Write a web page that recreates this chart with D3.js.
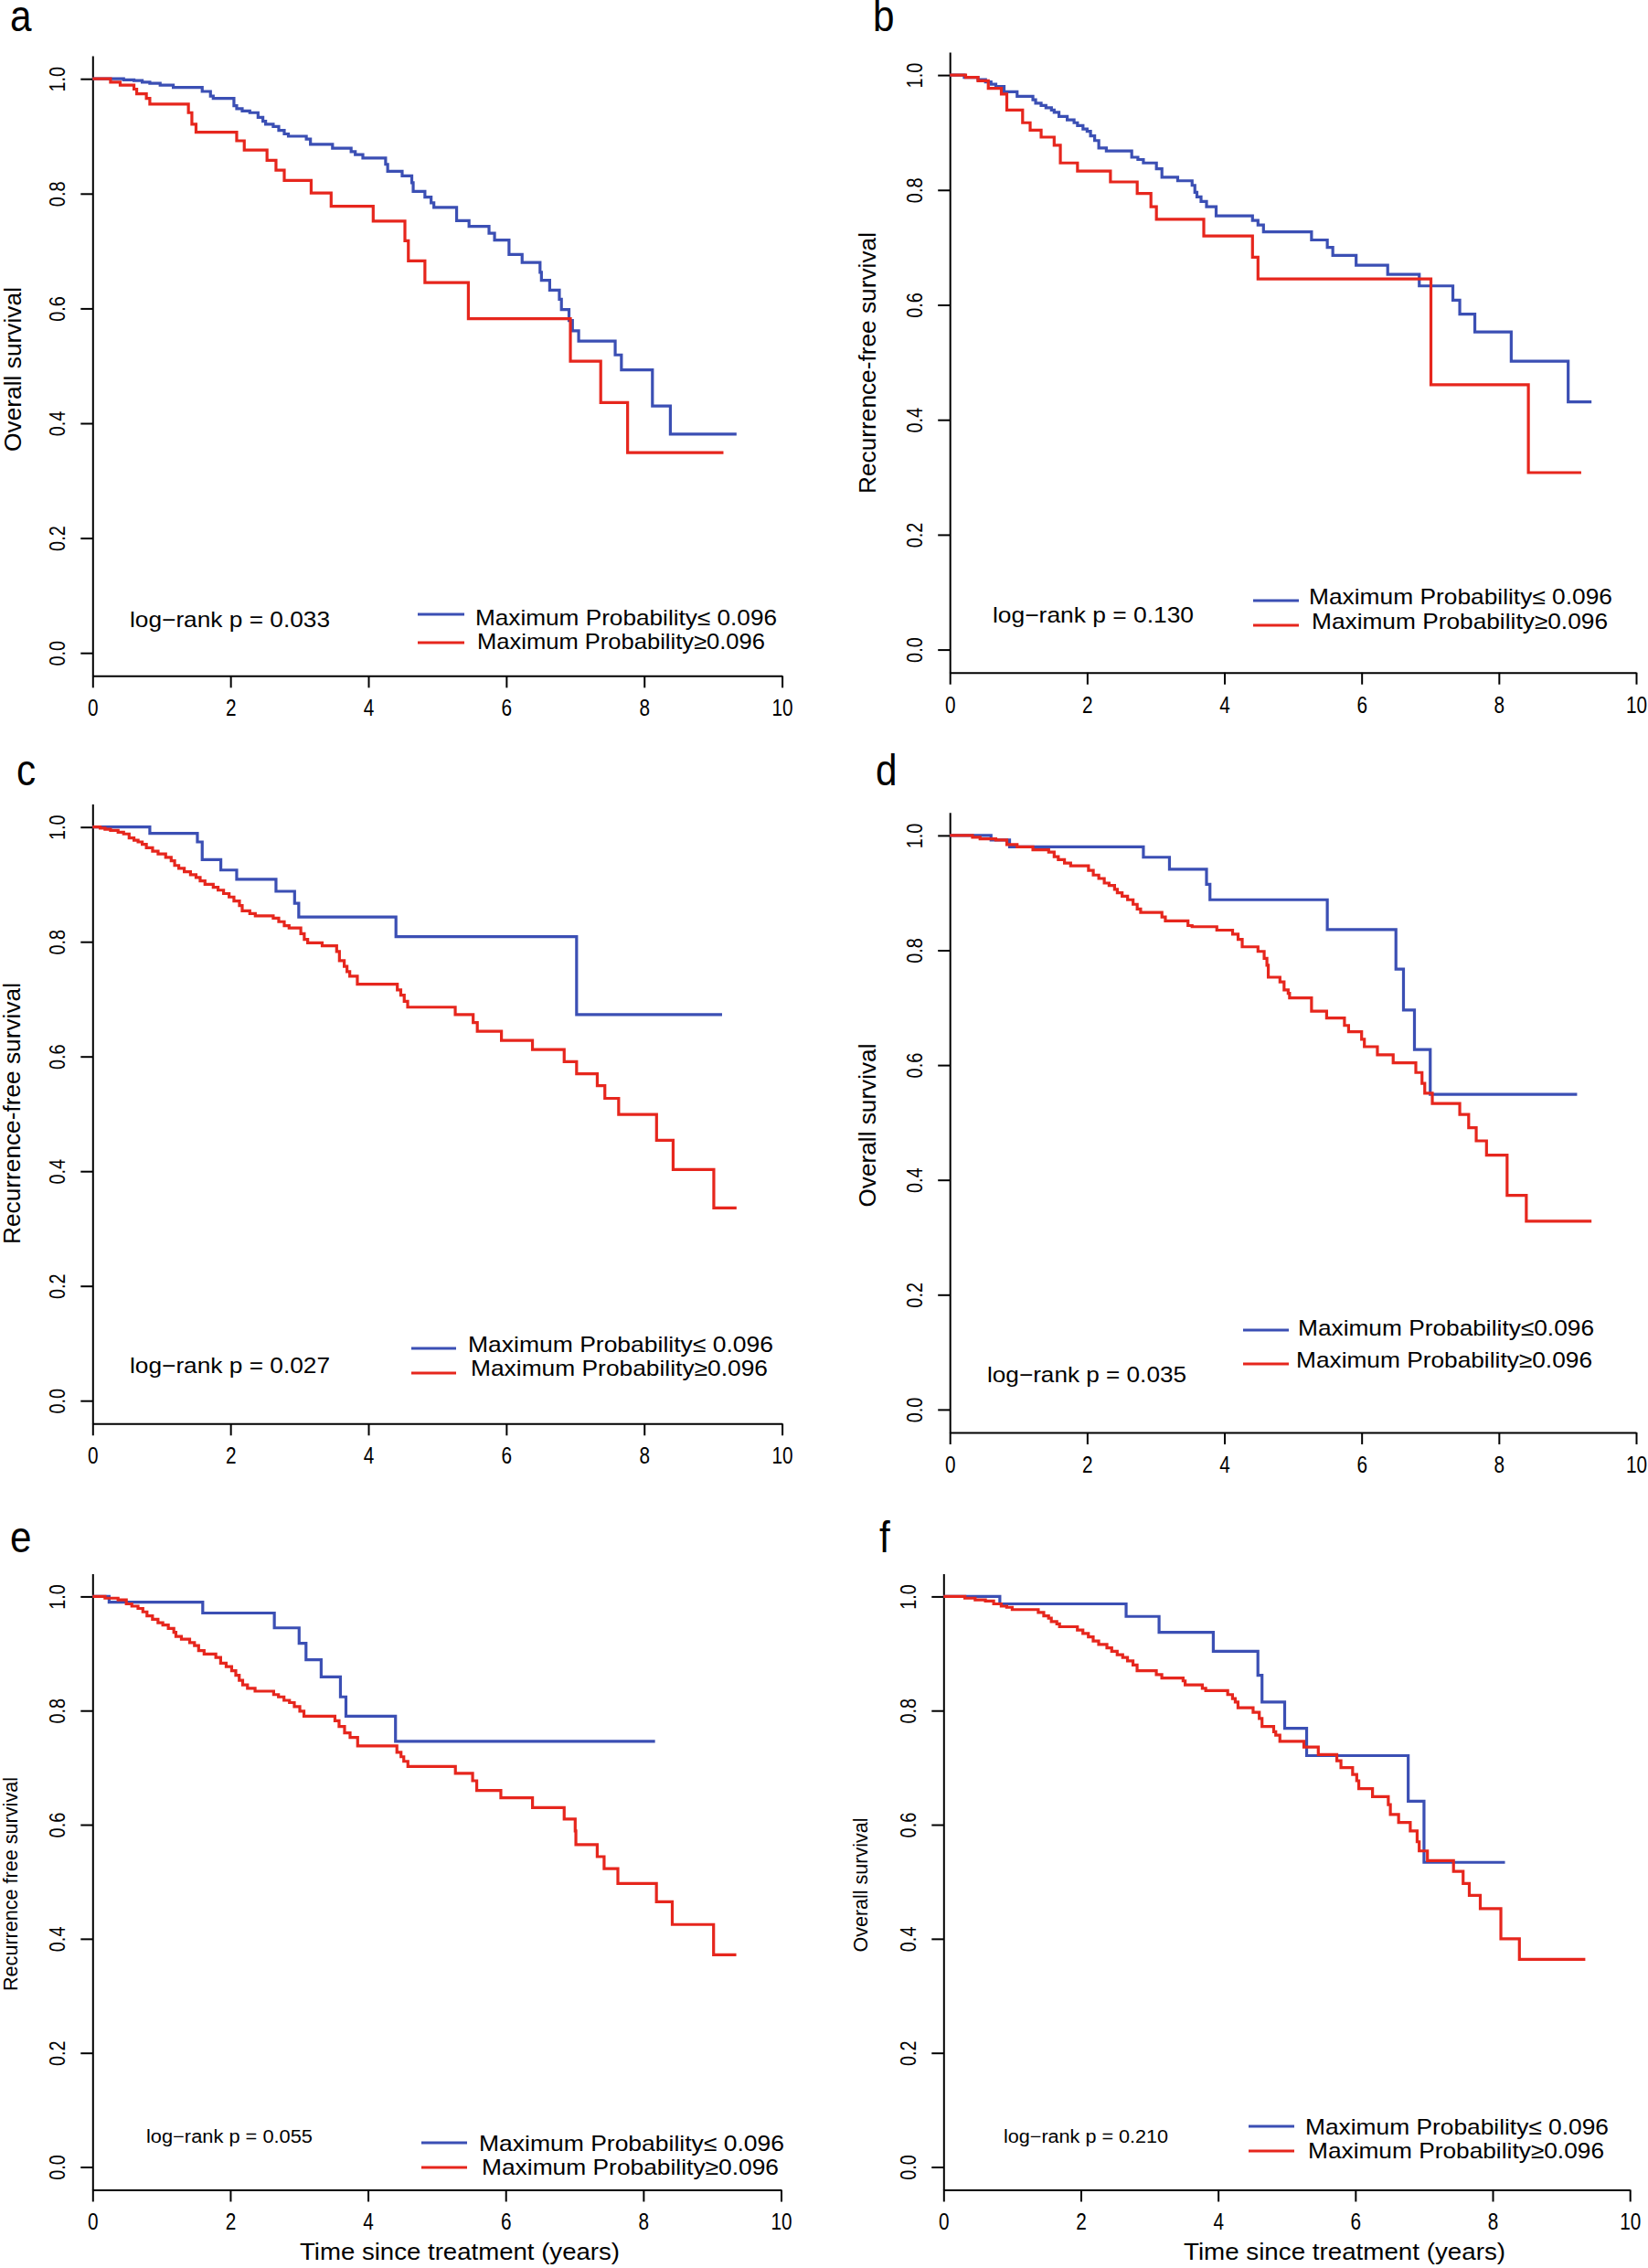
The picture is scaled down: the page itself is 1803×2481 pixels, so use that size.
<!DOCTYPE html>
<html><head><meta charset="utf-8">
<script src="https://cdn.jsdelivr.net/npm/d3@7"></script>
<style>
html,body{margin:0;padding:0;background:#fff;}
svg{display:block;}
text{font-family:"Liberation Sans",Arial,Helvetica,sans-serif;fill:#000;}
</style></head><body>
<svg id="fig" width="1803" height="2481"></svg>
<script>
// ---------- data ----------
const xTicks = [0, 2, 4, 6, 8, 10];
const yTicks = [0, 0.2, 0.4, 0.6, 0.8, 1.0];
const panelLetters = ["a", "b", "c", "d", "e", "f"];
const yTitles = ["Overall survival", "Recurrence-free survival", "Recurrence-free survival",
                 "Overall survival", "Recurrence free survival", "Overall survival"];
const pValues = ["0.033", "0.130", "0.027", "0.035", "0.055", "0.210"];
const legendLow = ["Maximum Probability\u2264 0.096", "Maximum Probability\u2264 0.096", "Maximum Probability\u2264 0.096",
                   "Maximum Probability\u22640.096", "Maximum Probability\u2264 0.096", "Maximum Probability\u2264 0.096"];
const legendHigh = ["Maximum Probability\u22650.096", "Maximum Probability\u22650.096", "Maximum Probability\u22650.096",
                    "Maximum Probability\u22650.096", "Maximum Probability\u22650.096", "Maximum Probability\u22650.096"];
const xTitle = "Time since treatment (years)";

// survival step curves: [time (years), survival]
const aBlue = [[0,1],[0.45,0.998],[0.60,0.997],[0.72,0.994],[0.83,0.992],[0.98,0.989],[1.17,0.985],[1.59,0.978],[1.71,0.970],[1.75,0.966],[2.05,0.953],[2.09,0.948],[2.17,0.944],[2.28,0.941],[2.40,0.933],[2.47,0.926],[2.51,0.921],[2.62,0.917],[2.70,0.910],[2.78,0.904],[2.84,0.900],[3.10,0.895],[3.16,0.886],[3.48,0.879],[3.75,0.873],[3.81,0.868],[3.92,0.862],[4.25,0.851],[4.28,0.839],[4.49,0.831],[4.63,0.819],[4.65,0.804],[4.82,0.794],[4.91,0.784],[4.95,0.776],[5.28,0.753],[5.46,0.743],[5.75,0.731],[5.83,0.719],[6.04,0.694],[6.23,0.680],[6.49,0.663],[6.51,0.649],[6.63,0.632],[6.77,0.616],[6.80,0.598],[6.91,0.579],[6.96,0.561],[7.05,0.543],[7.58,0.519],[7.67,0.493],[8.12,0.430],[8.38,0.381],[9.34,0.381]];
const aRed = [[0,1],[0.26,0.994],[0.40,0.989],[0.60,0.982],[0.64,0.974],[0.78,0.966],[0.83,0.956],[1.39,0.941],[1.44,0.921],[1.50,0.907],[2.09,0.892],[2.20,0.876],[2.53,0.858],[2.66,0.841],[2.78,0.823],[3.17,0.801],[3.46,0.778],[4.07,0.752],[4.53,0.718],[4.58,0.683],[4.82,0.645],[5.45,0.582],[6.93,0.508],[7.37,0.436],[7.76,0.349],[9.15,0.349]];

const bBlue = [[0,1],[0.21,0.996],[0.41,0.992],[0.52,0.988],[0.60,0.984],[0.67,0.980],[0.79,0.971],[0.98,0.963],[1.21,0.957],[1.25,0.951],[1.33,0.947],[1.40,0.943],[1.48,0.939],[1.52,0.935],[1.59,0.928],[1.71,0.922],[1.81,0.917],[1.86,0.912],[1.94,0.906],[2.00,0.902],[2.05,0.894],[2.11,0.886],[2.17,0.873],[2.28,0.868],[2.65,0.857],[2.74,0.853],[2.82,0.847],[3.01,0.837],[3.09,0.822],[3.32,0.816],[3.53,0.808],[3.57,0.796],[3.60,0.788],[3.66,0.780],[3.74,0.771],[3.88,0.755],[4.41,0.747],[4.49,0.739],[4.57,0.727],[5.27,0.713],[5.50,0.700],[5.58,0.686],[5.92,0.669],[6.38,0.653],[6.84,0.633],[7.33,0.608],[7.43,0.584],[7.65,0.553],[8.18,0.502],[9.01,0.431],[9.35,0.431]];
const bRed = [[0,1],[0.23,0.996],[0.41,0.990],[0.56,0.977],[0.75,0.967],[0.83,0.939],[1.06,0.917],[1.17,0.904],[1.33,0.892],[1.52,0.878],[1.61,0.847],[1.86,0.833],[2.34,0.814],[2.73,0.794],[2.93,0.771],[3.01,0.749],[3.70,0.720],[4.41,0.683],[4.49,0.645],[7.01,0.461],[8.43,0.308],[9.20,0.308]];

const cBlue = [[0,1],[0.83,0.989],[1.52,0.974],[1.59,0.943],[1.86,0.925],[2.09,0.909],[2.66,0.888],[2.93,0.867],[2.99,0.843],[4.40,0.809],[7.02,0.673],[9.13,0.673]];
const cRed = [[0,1],[0.11,0.998],[0.18,0.996],[0.26,0.994],[0.37,0.991],[0.45,0.988],[0.53,0.981],[0.60,0.977],[0.66,0.974],[0.72,0.970],[0.78,0.964],[0.87,0.958],[0.95,0.953],[1.06,0.947],[1.14,0.941],[1.19,0.933],[1.25,0.928],[1.33,0.922],[1.42,0.917],[1.50,0.912],[1.56,0.906],[1.63,0.900],[1.75,0.895],[1.82,0.890],[1.90,0.884],[1.98,0.878],[2.05,0.871],[2.13,0.863],[2.17,0.854],[2.28,0.849],[2.36,0.845],[2.62,0.841],[2.70,0.835],[2.78,0.828],[2.85,0.824],[3.02,0.814],[3.07,0.804],[3.12,0.798],[3.33,0.793],[3.54,0.783],[3.58,0.767],[3.65,0.757],[3.69,0.748],[3.73,0.740],[3.84,0.726],[4.42,0.716],[4.47,0.707],[4.52,0.696],[4.57,0.686],[5.26,0.673],[5.52,0.659],[5.58,0.644],[5.93,0.628],[6.38,0.612],[6.84,0.591],[7.02,0.570],[7.32,0.549],[7.43,0.527],[7.63,0.499],[8.18,0.454],[8.42,0.403],[9.01,0.336],[9.34,0.336]];

const dBlue = [[0,1],[0.60,0.992],[0.87,0.980],[2.82,0.962],[3.20,0.941],[3.74,0.915],[3.79,0.888],[5.50,0.836],[6.50,0.767],[6.61,0.696],[6.77,0.627],[7.00,0.549],[9.14,0.549]];
const dRed = [[0,1],[0.33,0.997],[0.44,0.994],[0.67,0.992],[0.83,0.984],[0.98,0.980],[1.21,0.975],[1.44,0.971],[1.52,0.963],[1.58,0.958],[1.67,0.952],[1.76,0.947],[2.02,0.939],[2.09,0.931],[2.17,0.925],[2.25,0.917],[2.32,0.913],[2.40,0.906],[2.44,0.900],[2.51,0.894],[2.59,0.888],[2.67,0.880],[2.73,0.872],[2.78,0.866],[3.09,0.858],[3.14,0.851],[3.47,0.843],[3.53,0.841],[3.89,0.835],[4.12,0.828],[4.20,0.819],[4.26,0.806],[4.49,0.798],[4.58,0.786],[4.62,0.774],[4.64,0.753],[4.81,0.745],[4.87,0.731],[4.93,0.725],[4.95,0.717],[5.27,0.694],[5.49,0.682],[5.75,0.669],[5.81,0.658],[6.00,0.645],[6.04,0.632],[6.23,0.618],[6.46,0.604],[6.79,0.587],[6.88,0.568],[6.92,0.551],[7.03,0.533],[7.43,0.514],[7.56,0.491],[7.67,0.468],[7.82,0.443],[8.12,0.373],[8.40,0.328],[9.35,0.328]];

const eBlue = [[0,1],[0.24,0.990],[1.60,0.971],[2.64,0.945],[3.00,0.918],[3.10,0.889],[3.32,0.859],[3.60,0.824],[3.68,0.790],[4.40,0.746],[8.17,0.746]];
const eRed = [[0,1],[0.18,0.997],[0.37,0.994],[0.49,0.987],[0.57,0.983],[0.66,0.979],[0.73,0.973],[0.79,0.966],[0.87,0.960],[0.95,0.954],[1.02,0.950],[1.10,0.944],[1.18,0.937],[1.21,0.930],[1.29,0.925],[1.41,0.919],[1.48,0.914],[1.54,0.905],[1.62,0.899],[1.79,0.893],[1.86,0.883],[1.94,0.877],[2.02,0.870],[2.08,0.862],[2.13,0.853],[2.18,0.845],[2.25,0.839],[2.36,0.834],[2.63,0.828],[2.70,0.824],[2.78,0.818],[2.86,0.814],[2.93,0.807],[3.01,0.799],[3.07,0.790],[3.52,0.782],[3.58,0.772],[3.66,0.761],[3.74,0.753],[3.85,0.738],[4.42,0.727],[4.48,0.719],[4.52,0.711],[4.58,0.702],[5.27,0.690],[5.52,0.677],[5.58,0.660],[5.93,0.647],[6.39,0.630],[6.85,0.610],[7.01,0.589],[7.02,0.565],[7.33,0.544],[7.43,0.523],[7.63,0.497],[8.19,0.465],[8.42,0.425],[9.02,0.372],[9.35,0.372]];

const fBlue = [[0,1],[0.82,0.987],[2.66,0.965],[3.14,0.937],[3.93,0.904],[4.58,0.862],[4.64,0.815],[4.97,0.769],[5.29,0.721],[6.77,0.641],[7.00,0.534],[8.18,0.534]];
const fRed = [[0,1],[0.31,0.997],[0.46,0.994],[0.61,0.992],[0.73,0.987],[0.84,0.983],[0.92,0.981],[1.00,0.977],[1.38,0.972],[1.46,0.966],[1.53,0.962],[1.57,0.956],[1.65,0.952],[1.69,0.947],[1.95,0.941],[2.03,0.935],[2.11,0.929],[2.18,0.922],[2.26,0.916],[2.38,0.910],[2.45,0.904],[2.53,0.898],[2.61,0.893],[2.68,0.887],[2.76,0.880],[2.82,0.870],[3.10,0.863],[3.18,0.857],[3.49,0.852],[3.52,0.845],[3.77,0.839],[3.82,0.835],[4.14,0.828],[4.21,0.821],[4.25,0.815],[4.29,0.805],[4.51,0.797],[4.60,0.786],[4.64,0.772],[4.81,0.763],[4.84,0.757],[4.90,0.746],[5.25,0.736],[5.46,0.723],[5.73,0.712],[5.79,0.700],[5.96,0.688],[6.02,0.677],[6.05,0.663],[6.25,0.649],[6.48,0.635],[6.51,0.618],[6.63,0.604],[6.80,0.589],[6.90,0.570],[6.93,0.554],[7.05,0.537],[7.43,0.518],[7.57,0.497],[7.66,0.476],[7.82,0.453],[8.12,0.400],[8.39,0.364],[9.35,0.364]];

const blueSeries = [aBlue, bBlue, cBlue, dBlue, eBlue, fBlue];
const redSeries = [aRed, bRed, cRed, dRed, eRed, fRed];

// ---------- layout (pixels) ----------
const layout = [
  {x0:101.3, x10:855.6, y1:86.2, y0:714.2, letter:[11,34], yt:{cx:14, cy:404, size:26, len:180},
   leg:{lx:[457,508], ly:[672,703], tx:[520,522], tb:[684,710], tw:[330,315], size:24},
   lr:{x:142, b:686, w:219, size:24}, xt:null},
  {x0:1039.2, x10:1790, y1:82.1, y0:710.6, letter:[955,34], yt:{cx:949, cy:397, size:26, len:286},
   leg:{lx:[1371,1421], ly:[657,684], tx:[1432,1435], tb:[661,688], tw:[332,324], size:24},
   lr:{x:1086, b:681, w:220, size:24}, xt:null},
  {x0:101.3, x10:855.6, y1:904.7, y0:1532.2, letter:[18,859], yt:{cx:12.5, cy:1218, size:26, len:286},
   leg:{lx:[450,499], ly:[1475,1502], tx:[512,515], tb:[1479,1505], tw:[334,325], size:24},
   lr:{x:142, b:1502, w:219, size:24}, xt:null},
  {x0:1039.2, x10:1790, y1:913.9, y0:1541.9, letter:[958,859], yt:{cx:949, cy:1231, size:26, len:179},
   leg:{lx:[1360,1410], ly:[1455,1492], tx:[1420,1418], tb:[1461,1496], tw:[324,324], size:24},
   lr:{x:1080, b:1512, w:218, size:24}, xt:null},
  {x0:101.3, x10:854.5, y1:1746.4, y0:2370.5, letter:[11,1698], yt:{cx:11, cy:2061, size:21.5, len:234},
   leg:{lx:[461,511], ly:[2344,2371], tx:[524,527], tb:[2353,2379], tw:[334,325], size:24},
   lr:{x:160, b:2344, w:182, size:20}, xt:{cx:503, b:2472, w:350, size:25}},
  {x0:1032.3, x10:1783.2, y1:1746.4, y0:2370.5, letter:[962,1698], yt:{cx:941, cy:2062, size:21.5, len:147},
   leg:{lx:[1366,1416], ly:[2326,2353], tx:[1428,1431], tb:[2335,2361], tw:[332,324], size:24},
   lr:{x:1098, b:2344, w:180, size:20}, xt:{cx:1471, b:2472, w:352, size:25}}
];

const BLUE = "#3b4fb4";
const RED = "#e6261d";
const FONT = "Liberation Sans, Arial, sans-serif";

// narrow the glyphs along the text direction
function condense(sel, factor) {
  sel.each(function () {
    const n = this.getComputedTextLength();
    d3.select(this).attr("textLength", n * factor).attr("lengthAdjust", "spacingAndGlyphs");
  });
}

const svg = d3.select("#fig");

layout.forEach((L, i) => {
  const g = svg.append("g");
  const x = d3.scaleLinear().domain([0, 10]).range([L.x0, L.x10]);
  const y = d3.scaleLinear().domain([0, 1]).range([L.y0, L.y1]);
  const yAxisScale = y.copy().domain([-0.04, 1.04]).range([y(-0.04), y(1.04)]);

  // x axis
  const xa = g.append("g").attr("transform", `translate(0,${y(-0.04)})`)
    .call(d3.axisBottom(x).tickValues(xTicks).tickFormat(d3.format("d")).tickSize(13).tickSizeOuter(0));
  xa.select(".domain").attr("stroke", "#000").attr("stroke-width", 2);
  xa.selectAll(".tick line").attr("stroke", "#000").attr("stroke-width", 2);
  const xt = xa.selectAll(".tick text").attr("y", 44).attr("dy", null)
    .attr("font-size", 25).attr("font-family", FONT).attr("fill", "#000");
  condense(xt, 0.83);

  // y axis
  const ya = g.append("g").attr("transform", `translate(${x(0)},0)`)
    .call(d3.axisLeft(yAxisScale).tickValues(yTicks).tickFormat(d3.format(".1f")).tickSize(13).tickSizeOuter(0));
  ya.select(".domain").attr("stroke", "#000").attr("stroke-width", 2);
  ya.selectAll(".tick line").attr("stroke", "#000").attr("stroke-width", 2);
  const yt = ya.selectAll(".tick text").attr("x", null).attr("dy", null)
    .attr("transform", "translate(-30,0) rotate(-90)")
    .attr("text-anchor", "middle")
    .attr("font-size", 24).attr("font-family", FONT).attr("fill", "#000");
  condense(yt, 0.83);

  // curves
  const line = d3.line().x(d => x(d[0])).y(d => y(d[1])).curve(d3.curveStepAfter);
  g.append("path").datum(blueSeries[i]).attr("d", line)
    .attr("fill", "none").attr("stroke", BLUE).attr("stroke-width", 3.2);
  g.append("path").datum(redSeries[i]).attr("d", line)
    .attr("fill", "none").attr("stroke", RED).attr("stroke-width", 3.2);

  // panel letter
  const lt = g.append("text").attr("x", L.letter[0]).attr("y", L.letter[1])
    .attr("font-size", 48).text(panelLetters[i]);
  condense(lt, 0.88);

  // y title
  const ytb = L.yt.cx + 0.36 * L.yt.size;
  g.append("text").attr("transform", `translate(${ytb},${L.yt.cy}) rotate(-90)`)
    .attr("text-anchor", "middle").attr("font-size", L.yt.size)
    .attr("textLength", L.yt.len).attr("lengthAdjust", "spacingAndGlyphs")
    .text(yTitles[i]);

  // x title
  if (L.xt) {
    g.append("text").attr("x", L.xt.cx - L.xt.w / 2).attr("y", L.xt.b)
      .attr("font-size", L.xt.size)
      .attr("textLength", L.xt.w).attr("lengthAdjust", "spacingAndGlyphs")
      .text(xTitle);
  }

  // legend
  const leg = L.leg;
  [[BLUE, legendLow[i]], [RED, legendHigh[i]]].forEach((item, k) => {
    g.append("line").attr("x1", leg.lx[0]).attr("x2", leg.lx[1])
      .attr("y1", leg.ly[k]).attr("y2", leg.ly[k])
      .attr("stroke", item[0]).attr("stroke-width", 3.2);
    g.append("text").attr("x", leg.tx[k]).attr("y", leg.tb[k])
      .attr("font-size", leg.size)
      .attr("textLength", leg.tw[k]).attr("lengthAdjust", "spacingAndGlyphs")
      .text(item[1]);
  });

  // log-rank
  g.append("text").attr("x", L.lr.x).attr("y", L.lr.b)
    .attr("font-size", L.lr.size)
    .attr("textLength", L.lr.w).attr("lengthAdjust", "spacingAndGlyphs")
    .text("log\u2212rank p = " + pValues[i]);
});
</script>
</body></html>
